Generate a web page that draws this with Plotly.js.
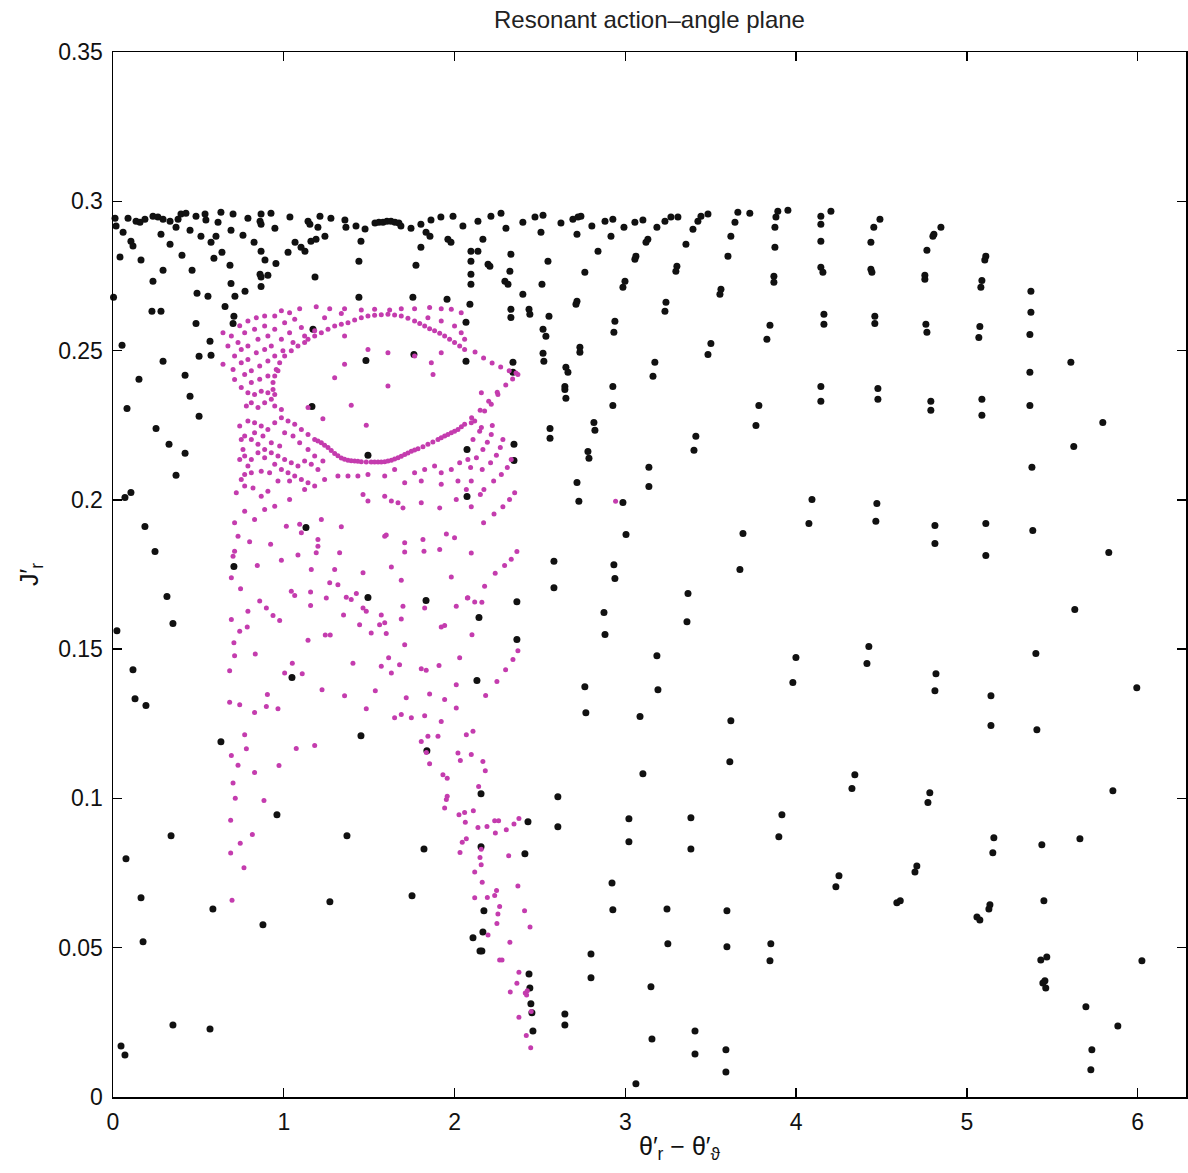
<!DOCTYPE html>
<html><head><meta charset="utf-8">
<script src="https://cdn.plot.ly/plotly-3.0.1.min.js"></script>
<style>html,body{margin:0;padding:0;background:#fff}#chart{width:1188px;height:1173px}</style>
</head><body><div id="chart"></div>
<script>
// ---- Black orbits (outer, circulating trajectories) ----
const blackX_top = [0.012,0.018,0.088,0.135,0.158,0.187,0.234,0.263,0.293,0.334,0.381,0.398,0.427,0.369,0.451,0.486,0.539,0.544,0.632,0.615,0.703,0.691,0.790,0.867,0.861,0.867,0.925,0.948,1.036,1.142,1.153,1.212,1.200,1.276,1.358,1.364,1.423,1.476,1.534,1.557,1.581,1.604,1.628,1.651,1.674,1.686,1.745,1.803,1.862,1.920,1.991,2.049];
const blackY_top = [0.2943,0.2917,0.2943,0.2933,0.2930,0.2940,0.2950,0.2947,0.2940,0.2933,0.2940,0.2957,0.2960,0.2913,0.2903,0.2950,0.2957,0.2937,0.2963,0.2930,0.2957,0.2903,0.2943,0.2957,0.2933,0.2923,0.2960,0.2910,0.2947,0.2933,0.2923,0.2950,0.2913,0.2943,0.2937,0.2913,0.2917,0.2907,0.2927,0.2930,0.2930,0.2933,0.2933,0.2930,0.2927,0.2917,0.2910,0.2923,0.2937,0.2947,0.2950,0.2917];
const blackX_b = [0.059,0.105,0.117,0.281,0.334,0.515,0.574,0.603,0.761,0.826,0.867,0.890,0.954,1.025,1.066,1.101,1.124,1.159,1.189,1.241,1.452,1.803,1.833,1.856,1.961,1.979];
const blackY_b = [0.2896,0.2866,0.2850,0.2890,0.2856,0.2883,0.2863,0.2883,0.2886,0.2863,0.2833,0.2803,0.2792,0.2829,0.2863,0.2846,0.2833,0.2866,0.2873,0.2883,0.2866,0.2846,0.2896,0.2883,0.2873,0.2863];
const blackX_c = [0.041,0.164,0.293,0.404,0.463,0.591,0.638,0.685,0.861,0.867,0.907,0.867,1.183,1.440,1.774,0.234,0.691,0.773,0.714,0.492,0.556,0.003,0.228,0.281,0.656,0.708,0.703,0.486,1.440,1.756,1.956,0.053,0.568,0.504,0.574,0.293,0.422,0.152,1.481,1.762,2.067,2.067,1.171];
const blackY_c = [0.2813,0.2803,0.2769,0.2819,0.2769,0.2809,0.2829,0.2786,0.2756,0.2746,0.2752,0.2715,0.2746,0.2799,0.2786,0.2732,0.2725,0.2699,0.2682,0.2692,0.2682,0.2679,0.2632,0.2632,0.2648,0.2615,0.2591,0.2591,0.2679,0.2679,0.2672,0.2518,0.2531,0.2481,0.2484,0.2464,0.2417,0.2404,0.2467,0.2487,0.2595,0.2464,0.2571];
const blackX_d = [2.137,2.213,2.272,2.301,2.400,2.471,2.518,2.506,2.623,2.693,2.723,2.740,2.717,2.804,2.881,2.927,2.916,2.992,3.056,3.103,3.185,3.232,3.267,3.308,3.132,3.121,3.425,3.443,3.484,3.396,3.355,3.659,3.729,3.642,3.618,3.601,3.893,3.952,3.882,3.876,3.876,3.870,3.870,4.145,4.145,4.145,4.145,4.157,4.163,4.163,3.847,3.829,3.501,3.484,3.173,3.162,3.560,3.554,3.302,3.296,3.238,3.232,2.998,2.986,3.056,3.062,2.939,2.933,2.840,2.763,2.717,2.711,2.734,2.734,2.547,2.512,2.518,2.535,2.518,2.523,2.553,2.400,2.436,2.441,2.330,2.330,2.342,2.342,2.652,2.664,2.646,2.927,2.330,2.324,2.295,2.313,2.196,2.207,2.166,2.137,2.096,2.096,2.096,2.096,2.090,4.145];
const blackY_d = [0.2933,0.2950,0.2960,0.2910,0.2930,0.2947,0.2953,0.2896,0.2927,0.2940,0.2947,0.2950,0.2890,0.2917,0.2933,0.2940,0.2883,0.2913,0.2930,0.2937,0.2913,0.2933,0.2947,0.2947,0.2873,0.2863,0.2933,0.2950,0.2957,0.2906,0.2856,0.2963,0.2960,0.2930,0.2883,0.2816,0.2967,0.2970,0.2947,0.2913,0.2846,0.2749,0.2729,0.2950,0.2923,0.2866,0.2779,0.2762,0.2622,0.2588,0.2585,0.2538,0.2524,0.2487,0.2461,0.2414,0.2705,0.2689,0.2782,0.2766,0.2662,0.2632,0.2732,0.2712,0.2806,0.2816,0.2598,0.2561,0.2833,0.2762,0.2665,0.2655,0.2511,0.2494,0.2799,0.2722,0.2571,0.2548,0.2491,0.2464,0.2615,0.2689,0.2638,0.2622,0.2638,0.2611,0.2461,0.2427,0.2444,0.2427,0.2380,0.2380,0.2823,0.2766,0.2732,0.2722,0.2789,0.2782,0.2873,0.2833,0.2833,0.2799,0.2756,0.2722,0.2655,0.2380];
const blackX_e = [4.204,4.491,4.455,4.438,4.438,4.444,4.461,4.461,4.479,4.848,4.807,4.801,4.766,4.754,4.754,4.760,4.766,5.111,5.105,5.088,5.082,5.076,5.070,5.375,5.375,5.369,5.369,5.609];
const blackY_e = [0.2967,0.2940,0.2913,0.2863,0.2772,0.2762,0.2615,0.2591,0.2373,0.2913,0.2890,0.2883,0.2836,0.2752,0.2739,0.2588,0.2561,0.2816,0.2803,0.2735,0.2712,0.2581,0.2544,0.2699,0.2628,0.2554,0.2427,0.2461];
const blackX_f = [0.451,0.082,0.504,0.252,0.328,0.422,0.369,0.105,0.070,0.187,0.246,0.316,0.351,0.023,0.117,0.129,0.193,0.708,1.165,1.130,1.493,1.493,1.833,1.048,1.452,2.073,2.073];
const blackY_f = [0.2347,0.2306,0.2280,0.2239,0.2186,0.2156,0.2082,0.2025,0.2008,0.1911,0.1827,0.1676,0.1586,0.1562,0.1431,0.1334,0.1311,0.1777,0.2313,0.1907,0.2149,0.1673,0.1663,0.1405,0.1210,0.2169,0.2011];
const blackX_g = [2.646,2.652,2.927,2.559,2.559,2.816,2.822,2.781,2.787,2.348,2.348,2.717,2.728,3.138,3.138,3.413,3.402,3.782,3.765,4.145,4.093,4.075,3.689,3.671,2.986,3.004,2.582,2.582,2.933,2.939,3.367,3.361,2.365,2.143,2.365,2.875,2.881,3.185,3.191,3.999,3.981,2.131,2.763,2.769,3.086,3.618];
const blackY_g = [0.2370,0.2340,0.2316,0.2239,0.2206,0.2259,0.2233,0.2162,0.2139,0.2186,0.2132,0.2058,0.1995,0.2109,0.2045,0.2213,0.2166,0.2316,0.2249,0.2330,0.2001,0.1921,0.1887,0.1767,0.1991,0.1884,0.1794,0.1706,0.1783,0.1737,0.1686,0.1592,0.1659,0.1606,0.1532,0.1623,0.1549,0.1478,0.1364,0.1472,0.1388,0.1395,0.1374,0.1287,0.1274,0.1260];
const blackX_h = [4.479,4.789,4.789,5.088,5.088,5.369,5.796,5.626,5.381,4.473,4.467,4.813,4.813,5.111,5.111,5.386,5.831,5.632,4.426,4.415,4.819,4.813,5.141,5.141,5.404,5.410,5.995];
const blackY_h = [0.2337,0.2330,0.2300,0.2337,0.2283,0.2316,0.2259,0.2179,0.2109,0.1988,0.1928,0.1914,0.1854,0.1921,0.1814,0.1897,0.1824,0.1633,0.1509,0.1452,0.1418,0.1361,0.1344,0.1244,0.1485,0.1230,0.1371];
const blackX_i = [0.632,0.960,0.340,1.370,1.821,0.076,0.164,0.585,1.270,1.751,0.878,0.176,0.351,0.568,0.047,0.070,1.838];
const blackY_i = [0.1190,0.0945,0.0875,0.0875,0.0831,0.0798,0.0667,0.0630,0.0654,0.0674,0.0577,0.0520,0.0241,0.0228,0.0171,0.0141,0.1160];
const blackX_j = [3.612,3.103,2.155,2.605,2.605,3.917,3.899,3.021,3.021,3.384,3.384,2.430,2.412,2.922,2.927,3.244,3.249,3.595,3.595,3.852,3.847,2.172,2.166,2.108,2.149,2.160,2.799,2.799,3.150,2.436,2.441,2.447,2.453,2.459,2.646,2.646,3.156,3.408,3.408,3.589,3.589,3.062,2.155];
const blackY_j = [0.1123,0.1083,0.1016,0.1006,0.0905,0.0945,0.0872,0.0932,0.0855,0.0935,0.0831,0.0922,0.0815,0.0717,0.0627,0.0630,0.0513,0.0624,0.0503,0.0513,0.0456,0.0624,0.0553,0.0533,0.0489,0.0489,0.0479,0.0399,0.0369,0.0412,0.0365,0.0312,0.0282,0.0221,0.0278,0.0241,0.0194,0.0221,0.0144,0.0158,0.0084,0.0044,0.0838];
const blackX_k = [4.344,4.327,4.783,4.772,4.251,4.233,4.707,4.696,4.590,4.610,5.158,5.152,5.059,5.076,5.135,5.129,5.439,5.451,5.662,5.855,5.433,5.468,5.457,5.445,5.462,6.025,5.697,5.884,5.732,5.726];
const blackY_k = [0.1079,0.1033,0.1019,0.0986,0.0741,0.0704,0.0774,0.0754,0.0651,0.0657,0.0868,0.0818,0.0603,0.0593,0.0644,0.0630,0.0845,0.0657,0.0865,0.1026,0.0459,0.0469,0.0389,0.0382,0.0365,0.0456,0.0302,0.0238,0.0158,0.0091];

// ---- Magenta orbit (resonant island and its chaotic layer), [theta, J] ----
const islandTop = [[0.790,0.2359],[0.829,0.2353],[0.868,0.2364],[0.907,0.2359],[0.947,0.2353],[0.927,0.2337],[0.888,0.2325],[0.810,0.2325],[0.781,0.2314],[0.849,0.2309],[0.947,0.2314],[0.986,0.2303],[1.395,0.2317],[1.483,0.2250],[1.229,0.2272],[1.142,0.2309]];
const islandRingLow = [[0.790,0.2264],[0.829,0.2258],[0.868,0.2247],[0.907,0.2236],[0.947,0.2258],[0.986,0.2275],[1.025,0.2264],[1.064,0.2253],[1.103,0.2236],[1.142,0.2219],[1.181,0.2202],[1.220,0.2191],[1.259,0.2175],[1.298,0.2155],[1.337,0.2140],[1.376,0.2133],[1.415,0.2130],[1.454,0.2128],[1.512,0.2127],[1.552,0.2127],[1.591,0.2128],[1.630,0.2133],[1.669,0.2141],[1.708,0.2152],[1.747,0.2163],[1.786,0.2171],[1.844,0.2186],[1.903,0.2202],[1.942,0.2214],[1.981,0.2225],[2.020,0.2236],[2.059,0.2253],
 [1.200,0.2197],[1.239,0.2183],[1.278,0.2165],[1.317,0.2148],[1.356,0.2136],[1.395,0.2131],[1.434,0.2129],[1.483,0.2127],[1.532,0.2127],[1.571,0.2127],[1.610,0.2130],[1.649,0.2137],[1.688,0.2146],[1.727,0.2157],[1.766,0.2167],[1.815,0.2178],[1.873,0.2194],[1.922,0.2208],[1.961,0.2219],[2.000,0.2230],[2.040,0.2245],
 [2.100,0.2275],[2.150,0.2300],[2.200,0.2330],[2.250,0.2360],[2.300,0.2385],[2.340,0.2405],[2.371,0.2420]];
const islandRingUp = [[1.142,0.2538],[1.220,0.2560],[1.298,0.2582],[1.376,0.2593],[1.454,0.2610],[1.532,0.2618],[1.610,0.2622],[1.688,0.2616],[1.766,0.2599],[1.825,0.2582],[1.883,0.2566],[1.942,0.2549],[2.000,0.2527],[2.059,0.2504],
 [1.181,0.2549],[1.259,0.2571],[1.337,0.2588],[1.415,0.2602],[1.493,0.2616],[1.571,0.2620],[1.649,0.2619],[1.727,0.2608],[1.796,0.2591],[1.854,0.2573],[1.913,0.2558],[1.971,0.2538],[2.030,0.2515],
 [1.122,0.2527],[1.083,0.2515],[1.044,0.2499],[1.005,0.2482],[0.976,0.2459],[0.956,0.2437],[0.947,0.2415],[0.937,0.2393],[0.937,0.2370],
 [2.120,0.2495],[2.170,0.2475],[2.220,0.2458],[2.270,0.2445],[2.320,0.2432],[2.360,0.2425]];
const islandOuterRow = [[0.947,0.2616],[0.986,0.2633],[1.034,0.2627],[1.093,0.2640],[1.190,0.2647],[1.269,0.2640],[1.356,0.2640],[1.454,0.2636],[1.532,0.2638],[1.620,0.2636],[1.688,0.2640],[1.766,0.2640],[1.854,0.2644],[1.922,0.2640],[1.981,0.2638],[2.039,0.2627],
 [1.239,0.2610],[1.337,0.2624],[1.844,0.2610],[1.922,0.2599],[2.000,0.2582],[2.039,0.2560],[2.059,0.2538]];
const islandLeft = [[0.644,0.2560],[0.673,0.2515],[0.644,0.2454],[0.693,0.2549],[0.742,0.2583],[0.790,0.2599],[0.839,0.2610],[0.888,0.2616],[0.732,0.2527],[0.771,0.2560],[0.829,0.2571],[0.888,0.2582],[0.712,0.2482],[0.751,0.2504],[0.790,0.2515],[0.849,0.2538],[0.907,0.2549],[0.947,0.2571],[1.005,0.2593],[1.064,0.2605],[0.703,0.2437],[0.751,0.2459],[0.790,0.2470],[0.839,0.2493],[0.888,0.2504],[0.927,0.2515],[0.986,0.2538],[1.034,0.2560],[1.103,0.2577],[0.712,0.2403],[0.771,0.2420],[0.810,0.2432],[0.859,0.2448],[0.907,0.2465],[0.947,0.2482],[0.995,0.2499],[1.054,0.2527],[1.122,0.2549],[1.181,0.2566],[0.751,0.2376],[0.810,0.2393],[0.859,0.2404],[0.907,0.2415],[0.966,0.2432],
 [0.742,0.2247],[0.751,0.2202],[0.761,0.2169],[0.742,0.2135],[0.790,0.2113],[0.829,0.2225],[0.878,0.2214],[0.927,0.2191],[0.976,0.2180],[1.005,0.2225],[1.054,0.2214],[1.093,0.2191],[1.142,0.2169],[1.181,0.2147],[1.229,0.2130]];
const islandInside = [[1.356,0.2549],[1.493,0.2504],[1.610,0.2493],[1.766,0.2482],[1.864,0.2459],[1.874,0.2420],[1.356,0.2454],[1.610,0.2381],[1.298,0.2409],[1.922,0.2493]];
const islandInner = [[0.771,0.2214],[0.810,0.2202],[0.849,0.2186],[0.888,0.2169],[0.927,0.2158],[0.966,0.2147],[1.005,0.2135],[1.044,0.2124],[1.083,0.2113],[1.122,0.2130],[1.161,0.2119],[1.200,0.2102],[0.771,0.2147],[0.810,0.2135],[0.849,0.2158],[0.888,0.2141],[0.947,0.2119],[0.986,0.2102],[1.025,0.2091],[1.064,0.2080],[1.103,0.2068],[1.142,0.2057],[0.771,0.2085],[0.810,0.2091],[0.868,0.2096],[0.917,0.2091],[0.751,0.2068],[0.771,0.2046],
 [1.239,0.2068],[1.317,0.2080],[1.376,0.2080],[1.434,0.2080],[1.493,0.2085],[1.591,0.2080],[1.649,0.2102],[1.708,0.2057],[1.766,0.2091],[1.825,0.2102],[1.883,0.2113],[1.922,0.2091],[1.981,0.2102],[2.030,0.2124],[2.078,0.2135],[1.805,0.2063],[1.922,0.2052],[2.020,0.2063],[2.069,0.2035]];
const islandLower = [[0.722,0.2024],[0.820,0.2040],[0.868,0.2012],[0.907,0.2029],[0.966,0.2063],[1.034,0.2063],[1.122,0.2035],[1.181,0.2046],[1.464,0.2018],[1.493,0.1996],[1.591,0.2012],[1.630,0.1996],[1.669,0.1990],[1.698,0.1973],[1.805,0.1990],[1.913,0.1973],[2.010,0.2001],
 [0.712,0.1923],[0.732,0.1878],[0.771,0.1962],[0.829,0.1934],[0.888,0.1968],[0.947,0.1979],[1.015,0.1912],[1.034,0.2001],[1.093,0.1918],[1.103,0.1890],[1.200,0.1867],[1.220,0.1934],[1.337,0.1910],[1.200,0.1845],[1.190,0.1823],[1.327,0.1823],[1.298,0.1767],[1.269,0.1722],[1.317,0.1716],[1.161,0.1767],[1.083,0.1815],[0.986,0.1798],[0.845,0.1780],[0.923,0.1851],[0.800,0.1860],[0.712,0.1828],[0.703,0.1811],
 [0.693,0.1739],[0.747,0.1702],[1.591,0.1878],[1.600,0.1882],[1.708,0.1856],[1.708,0.1825],[1.815,0.1867],[1.821,0.1828],[1.913,0.1834],[1.952,0.1886],[2.000,0.1873],[1.464,0.1756],[1.630,0.1775],[1.688,0.1731],[1.981,0.1742],
 [1.044,0.1694],[1.064,0.1680],[1.157,0.1691],[1.157,0.1646],[1.249,0.1671],[1.366,0.1674],[1.395,0.1666],[1.425,0.1686],[1.464,0.1638],[1.483,0.1627],[1.571,0.1614],[1.591,0.1588],[1.688,0.1601],[1.698,0.1644],[1.825,0.1638],[2.010,0.1644],[2.075,0.1671],
 [0.693,0.1599],[0.790,0.1627],[0.859,0.1661],[0.898,0.1638],[0.937,0.1613],[0.976,0.1596],[0.786,0.1574],[0.742,0.1560],[1.142,0.1530],[1.243,0.1547],[1.272,0.1547],[1.350,0.1614],[1.444,0.1582],[1.512,0.1554],[1.600,0.1552],[1.561,0.1582],[1.708,0.1515],[1.922,0.1574],[1.942,0.1579],
 [0.708,0.1521],[0.712,0.1478],[0.833,0.1484],[0.683,0.1428],[1.005,0.1420],[1.050,0.1453],[1.108,0.1418],[1.405,0.1453],[1.571,0.1443],[1.614,0.1471],[1.630,0.1420],[1.678,0.1448],[1.805,0.1434],[1.834,0.1429],[1.909,0.1445],[2.030,0.1471],
 [0.683,0.1322],[0.742,0.1314],[0.829,0.1288],[0.898,0.1308],[0.904,0.1348],[0.966,0.1300],[1.224,0.1364],[1.356,0.1344],[1.483,0.1300],[1.536,0.1361],[1.717,0.1337],[1.649,0.1270],[1.688,0.1281],[1.747,0.1270],[1.825,0.1277],[1.854,0.1350],[1.942,0.1331],[2.010,0.1381],[2.010,0.1303],[1.922,0.1258],[0.771,0.1213],[1.844,0.1208],[1.903,0.1208],[2.069,0.1213]];
const islandRight = [[2.157,0.2359],[2.254,0.2353],[2.176,0.2298],[2.215,0.2320],[2.118,0.2264],[2.098,0.2258],[2.157,0.2242],[2.147,0.2230],[2.221,0.2249],[2.215,0.2219],[2.108,0.2202],[2.192,0.2193],[2.283,0.2202],[2.166,0.2169],[2.268,0.2175],[2.128,0.2141],[2.245,0.2149],[2.332,0.2135],[2.094,0.2108],[2.162,0.2102],[2.211,0.2124],[2.309,0.2108],[2.098,0.2063],[2.229,0.2063],[2.274,0.2085],[2.151,0.2018],[2.172,0.2035],[2.322,0.2001],[2.352,0.2024],[2.283,0.1977],[2.098,0.1977],[2.231,0.1953],[2.170,0.1923],[2.943,0.1995],[2.098,0.1822],[2.365,0.1827],[2.332,0.1801],[2.293,0.1780],[2.238,0.1754],[2.176,0.1711],[2.078,0.1672],[2.118,0.1658],[2.160,0.1657],[2.102,0.1548],[2.371,0.1495],[2.342,0.1465],[2.299,0.1431],[2.248,0.1392],[2.182,0.1345],[2.108,0.1225]];
const islandTail = [[0.693,0.1144],[0.781,0.1166],[0.732,0.1111],[0.829,0.1087],[0.703,0.1052],[0.716,0.1001],[0.884,0.0993],[0.689,0.0927],[0.745,0.0850],[0.816,0.0879],[0.689,0.0817],[0.767,0.0768],[0.697,0.0659],[0.972,0.1110],[1.073,0.1167],[1.181,0.1177],[1.805,0.1191],[1.835,0.1154],[1.854,0.1116],[1.932,0.1079],[1.957,0.1068],[1.957,0.1007],[1.952,0.0996],[1.942,0.0968],[2.020,0.1152],[2.034,0.1127],[2.026,0.0945],[2.059,0.0953],[2.063,0.0920],[2.045,0.0853],[2.069,0.0865],[2.032,0.0819],
 [2.098,0.1147],[2.166,0.1124],[2.180,0.1093],[2.141,0.1040],[2.110,0.0959],[2.137,0.0903],[2.190,0.0906],[2.235,0.0925],[2.258,0.0925],[2.239,0.0884],[2.303,0.0895],[2.348,0.0914],[2.377,0.0933],[2.317,0.0808],[2.156,0.0830],[2.149,0.0802],[2.156,0.0778],[2.118,0.0754],[2.162,0.0719],[2.371,0.0707],[2.118,0.0667],[2.192,0.0668],[2.235,0.0675],[2.246,0.0692],[2.264,0.0638],[2.254,0.0613],[2.248,0.0581],[2.410,0.0624],[2.442,0.0569],[2.196,0.0543],[2.324,0.0518],[2.264,0.0459],[2.278,0.0459],[2.377,0.0418],[2.365,0.0381],[2.326,0.0352],[2.414,0.0348],[2.426,0.0356],[2.422,0.0342],[2.449,0.0286],[2.377,0.0267],[2.420,0.0206],[2.446,0.0165]];

const xTicks = [0,1,2,3,4,5,6];
const yTicks = [0,0.05,0.1,0.15,0.2,0.25,0.3,0.35];

const blackX = [].concat(blackX_top,blackX_b,blackX_c,blackX_d,blackX_e,blackX_f,blackX_g,blackX_h,blackX_i,blackX_j,blackX_k);
const blackY = [].concat(blackY_top,blackY_b,blackY_c,blackY_d,blackY_e,blackY_f,blackY_g,blackY_h,blackY_i,blackY_j,blackY_k);
const island = [].concat(islandTop,islandRingLow,islandRingUp,islandOuterRow,islandLeft,islandInside,islandInner,islandLower,islandRight,islandTail);

const FONT = "'Liberation Sans', Arial, Helvetica, sans-serif";
const traces = [
  {type:'scatter', mode:'markers', x: blackX, y: blackY, cliponaxis:false,
   marker:{color:'#111111', size:7}, hoverinfo:'skip'},
  {type:'scatter', mode:'markers', x: island.map(p=>p[0]), y: island.map(p=>p[1]),
   marker:{color:'#c43cae', size:5}, hoverinfo:'skip'}
];
const axisCommon = {showgrid:false, zeroline:false, showline:true, linecolor:'#000', linewidth:1.5,
  mirror:'ticks', ticks:'inside', ticklen:9, tickwidth:1.3, tickcolor:'#000', ticklabelstandoff:4,
  tickfont:{family:FONT, size:23, color:'#111'}};
const layout = {
  width:1188, height:1173, paper_bgcolor:'#fff', plot_bgcolor:'#fff', showlegend:false,
  margin:{l:113, r:2, t:52, b:76},
  title:{text:'Resonant action\u2013angle plane', font:{family:"'Liberation Sans Narrow', 'Liberation Sans', Arial, sans-serif", size:24, color:'#222'},
         x:0.5, xref:'paper', y:0.983, yref:'container', yanchor:'middle'},
  xaxis: Object.assign({}, axisCommon, {range:[0, 2*Math.PI], tickvals:xTicks, ticktext:xTicks.map(String)}),
  yaxis: Object.assign({}, axisCommon, {range:[0, 0.35], tickvals:yTicks, ticktext:yTicks.map(String),
     title:{text:'J\u2032<sub>r</sub>', font:{family:FONT, size:25, color:'#111'}, standoff:12}}),
  annotations:[{text:'\u03b8\u2032<sub>r</sub> \u2212 \u03b8\u2032<sub>\u03d1</sub>', xref:'paper', yref:'paper',
     x:(680-113)/1073, y:-(1148-1097)/1045, xanchor:'center', yanchor:'middle', showarrow:false,
     font:{family:FONT, size:25, color:'#111'}}]
};
Plotly.newPlot('chart', traces, layout, {displayModeBar:false, staticPlot:true});
</script>
</body></html>
